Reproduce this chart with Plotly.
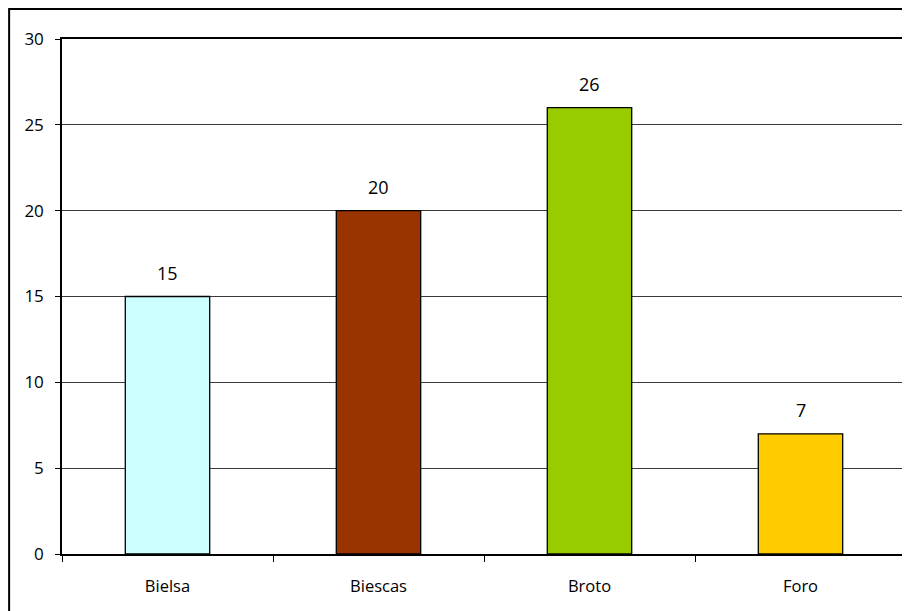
import plotly.graph_objects as go

categories = ["Bielsa", "Biescas", "Broto", "Foro"]
values = [15, 20, 26, 7]
colors = ["#CCFFFF", "#993300", "#99CC00", "#FFCC00"]
y_ticks = [0, 5, 10, 15, 20, 25, 30]

font_family = "Open Sans, Noto Sans, sans-serif"

# the page body has an 8px margin; compensate so the plot lands where the reference has it
OFF = 8
W, H = 910 - OFF, 611 - OFF
L, T, R, B = 62 - OFF, 39 - OFF, 2, 57
PW = W - L - R
PH = H - T - B

fig = go.Figure()
fig.add_trace(go.Bar(
    x=categories, y=values,
    marker=dict(color=colors, line=dict(color="#000000", width=1.3)),
    width=0.4,
    hoverinfo="x+y",
))

for c, v in zip(categories, values):
    fig.add_annotation(x=c, y=v, text=str(v), showarrow=False,
                       yanchor="bottom", yshift=10,
                       font=dict(family=font_family, size=18, color="#000"))

# outer chart frame
fig.add_shape(type="rect", xref="paper", yref="paper",
              x0=(1 - L) / PW, x1=(W + 5 - L) / PW,
              y0=-(B + 10) / PH, y1=(PH + T - 1) / PH,
              line=dict(color="#000000", width=2), layer="below")

fig.update_layout(
    width=W, height=H,
    margin=dict(l=L, r=R, t=T, b=B),
    paper_bgcolor="white", plot_bgcolor="white",
    showlegend=False,
    font=dict(family=font_family, color="#000"),
    xaxis=dict(
        showline=True, linecolor="#000", linewidth=1.5, mirror=True,
        ticks="outside", tickson="boundaries", ticklen=6, tickcolor="#000",
        tickfont=dict(size=16.5), ticklabelstandoff=16,
        showgrid=False,
    ),
    yaxis=dict(
        range=[0, 30], tickvals=y_ticks,
        showline=True, linecolor="#000", linewidth=1.5, mirror=True,
        ticks="outside", ticklen=5, tickcolor="#000",
        tickfont=dict(size=17), ticklabelstandoff=8,
        showgrid=True, gridcolor="#3a3a3a", gridwidth=1,
        zeroline=False,
    ),
)

fig.write_html("out.html")
